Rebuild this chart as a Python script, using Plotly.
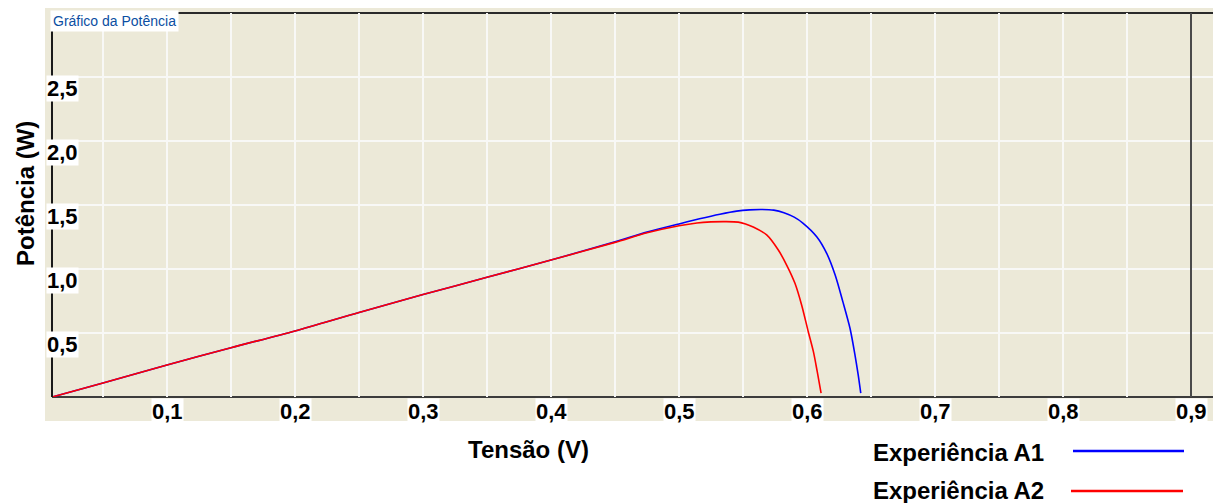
import plotly.graph_objects as go

# ---- data ----
v_a1 = [0.0102, 0.05, 0.10, 0.15, 0.20, 0.25, 0.30, 0.35, 0.40, 0.45, 0.475,
        0.50, 0.516, 0.532, 0.545, 0.555, 0.565, 0.574, 0.582, 0.590, 0.597,
        0.6076, 0.6154, 0.622, 0.628, 0.6336, 0.6375, 0.640, 0.642]
p_a1 = [0.0, 0.11, 0.25, 0.385, 0.516, 0.66, 0.80, 0.935, 1.07, 1.212, 1.288,
        1.352, 1.392, 1.428, 1.452, 1.462, 1.465, 1.460, 1.440, 1.405, 1.357,
        1.252, 1.122, 0.953, 0.745, 0.537, 0.328, 0.172, 0.03]

v_a2 = [0.0102, 0.05, 0.10, 0.15, 0.20, 0.25, 0.30, 0.35, 0.40, 0.45, 0.475,
        0.50, 0.514, 0.525, 0.537, 0.5463, 0.552, 0.558, 0.5685, 0.5776, 0.5841,
        0.5906, 0.5958, 0.601, 0.605, 0.608, 0.611]
p_a2 = [0.0, 0.11, 0.25, 0.385, 0.516, 0.66, 0.80, 0.935, 1.07, 1.208, 1.283,
        1.338, 1.360, 1.368, 1.370, 1.366, 1.352, 1.328, 1.266, 1.148, 1.031,
        0.888, 0.719, 0.51, 0.354, 0.198, 0.03]

x_tick_vals = [0.1, 0.2, 0.3, 0.4, 0.5, 0.6, 0.7, 0.8, 0.9]
x_tick_text = ["0,1", "0,2", "0,3", "0,4", "0,5", "0,6", "0,7", "0,8", "0,9"]
y_tick_vals = [0.5, 1.0, 1.5, 2.0, 2.5]
y_tick_text = ["0,5", "1,0", "1,5", "2,0", "2,5"]

series_names = ["Experiência A1", "Experiência A2"]
series_colors = ["#0000ff", "#ff0000"]

title_text = "Gráfico da Potência"
x_title = "Tensão (V)"
y_title = "Potência (W)"

# ---- figure geometry (page has an 8px body margin) ----
OFF = 8
W, H = 1223 - OFF, 503 - OFF
PL, PR, PT, PB = 52, 1213, 13, 397          # plot area in window pixels
L, R, T, B = PL - OFF, 1223 - PR, PT - OFF, 503 - PB
pw, ph = PR - PL, PB - PT


def px_to_paper_x(px):
    return (px - PL) / pw


def px_to_paper_y(py):
    return (PB - py) / ph


BEIGE = "#ece9d8"
FONT = "Liberation Sans, Arial, sans-serif"

fig = go.Figure()
for v, p, name, col in zip([v_a1, v_a2], [p_a1, p_a2], series_names, series_colors):
    fig.add_trace(go.Scatter(x=v, y=p, mode="lines", name=name,
                             line=dict(color=col, width=1.6, shape="spline", smoothing=0.8),
                             showlegend=False, hoverinfo="x+y"))

shapes = [
    dict(type="rect", xref="paper", yref="paper",
         x0=px_to_paper_x(45), x1=1.0, y0=px_to_paper_y(421), y1=px_to_paper_y(5),
         fillcolor=BEIGE, line=dict(width=0), layer="below"),
    dict(type="line", xref="paper", yref="paper", x0=0, x1=1, y0=0, y1=0,
         line=dict(color="#3c3c3c", width=2), layer="below"),
    dict(type="line", xref="paper", yref="paper", x0=0, x1=1, y0=1, y1=1,
         line=dict(color="#2a2a2a", width=2), layer="below"),
    dict(type="line", xref="paper", yref="paper", x0=0, x1=0, y0=0, y1=1,
         line=dict(color="#1a1a1a", width=2), layer="above"),
    dict(type="line", xref="x", yref="paper", x0=0.9, x1=0.9, y0=0, y1=1,
         line=dict(color="#111111", width=1.5), layer="above"),
]

leg_lines = [(1073, 1184, 451), (1071, 1183, 491)]
for (xa, xb, yy), col in zip(leg_lines, series_colors):
    shapes.append(dict(type="line", xref="paper", yref="paper",
                       x0=px_to_paper_x(xa), x1=px_to_paper_x(xb),
                       y0=px_to_paper_y(yy), y1=px_to_paper_y(yy),
                       line=dict(color=col, width=2.5)))

annotations = []
for v, t in zip(x_tick_vals, x_tick_text):
    annotations.append(dict(x=v, y=0, xref="x", yref="y", text=t, showarrow=False,
                            xanchor="center", yanchor="top", yshift=-1,
                            bgcolor="white", borderpad=0,
                            font=dict(family=FONT, size=22, color="black", weight="bold")))
for v, t in zip(y_tick_vals, y_tick_text):
    annotations.append(dict(x=0, y=v, xref="paper", yref="y", text=t, showarrow=False,
                            xanchor="left", yanchor="top", xshift=-6, yshift=2,
                            bgcolor="white", borderpad=0,
                            font=dict(family=FONT, size=22, color="black", weight="bold")))

annotations.append(dict(x=px_to_paper_x(50), y=px_to_paper_y(21.5), xref="paper", yref="paper",
                        text=title_text, showarrow=False, xanchor="left", yanchor="middle",
                        bgcolor="white", borderpad=2,
                        font=dict(family=FONT, size=14, color="#0b4ea2")))
annotations.append(dict(x=px_to_paper_x(528), y=px_to_paper_y(449), xref="paper", yref="paper",
                        text=x_title, showarrow=False, xanchor="center", yanchor="middle",
                        font=dict(family=FONT, size=24, color="black", weight="bold")))
annotations.append(dict(x=px_to_paper_x(25), y=px_to_paper_y(194), xref="paper", yref="paper",
                        text=y_title, showarrow=False, xanchor="center", yanchor="middle",
                        textangle=-90,
                        font=dict(family=FONT, size=24, color="black", weight="bold")))
for name, yy in zip(series_names, [452, 490]):
    annotations.append(dict(x=px_to_paper_x(871), y=px_to_paper_y(yy), xref="paper", yref="paper",
                            text=name, showarrow=False, xanchor="left", yanchor="middle",
                            font=dict(family=FONT, size=24, color="black", weight="bold")))

fig.update_layout(
    width=W, height=H,
    margin=dict(l=L, r=R, t=T, b=B, pad=0),
    paper_bgcolor="white", plot_bgcolor=BEIGE,
    xaxis=dict(range=[0.01016, 0.91719], showticklabels=False, ticks="",
               showgrid=True, gridcolor="#f8f8f6", gridwidth=1.5,
               tick0=0, dtick=0.05, zeroline=False, showline=False, fixedrange=True),
    yaxis=dict(range=[0, 3.0], showticklabels=False, ticks="",
               showgrid=True, gridcolor="#f8f8f6", gridwidth=1.5,
               tick0=0, dtick=0.5, zeroline=False, showline=False, fixedrange=True),
    shapes=shapes, annotations=annotations, showlegend=False,
)

fig.write_html("out.html")
